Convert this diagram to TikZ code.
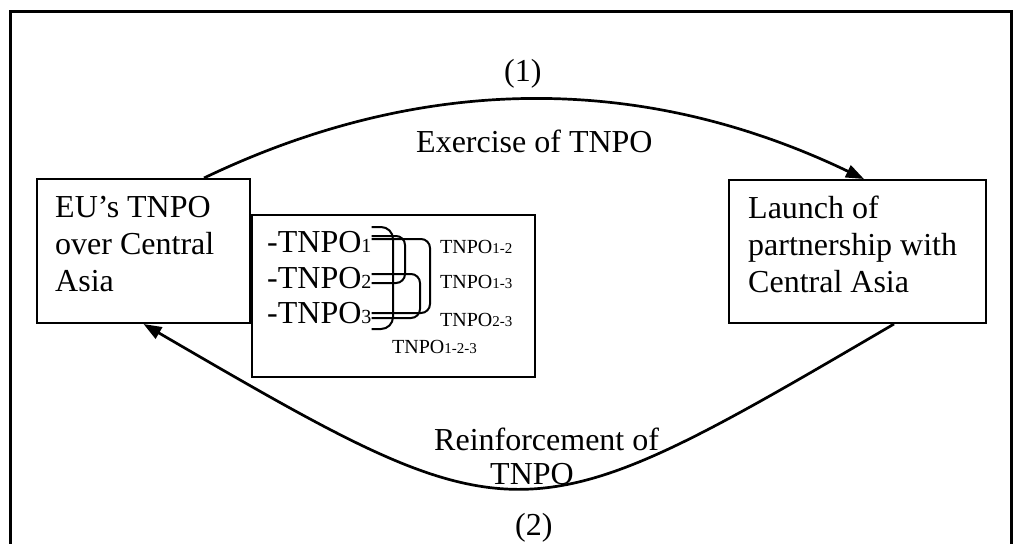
\documentclass[tikz,border=0pt]{standalone}
\usepackage{fontspec}
\setmainfont{Liberation Serif}
\usetikzlibrary{arrows.meta}
\begin{document}
\begin{tikzpicture}[x=1pt,y=-1pt,
  big/.style={font=\fontsize{32}{37}\selectfont, inner sep=0pt, anchor=base west},
  sm/.style={font=\fontsize{20}{22}\selectfont, inner sep=0pt, anchor=base west},
  boxnode/.style={draw, line width=2pt, inner sep=0pt, anchor=north west},
  flow/.style={line width=2.7pt, -{Triangle[length=18pt,width=13pt]}},
  brk/.style={line width=2pt, rounded corners=9pt},
]
\useasboundingbox (0,0) rectangle (1013,544);
\draw[line width=3pt] (10,544) -- (10,11) -- (1011,11) -- (1011,544);

% boxes
\node[boxnode, minimum width=213pt, minimum height=144pt] (L) at (36,178) {};
\node[boxnode, minimum width=257pt, minimum height=143pt] (R) at (728,179) {};
\node[boxnode, minimum width=283pt, minimum height=162pt] (M) at (251,214) {};

% box texts
\node[big] (l1) at (55,217) {EU’s TNPO};
\node[big] (l2) at (55,254) {over Central};
\node[big] (l3) at (55,291) {Asia};
\node[big] (r1) at (748,218) {Launch of};
\node[big] (r2) at (748,255) {partnership with};
\node[big] (r3) at (748,292) {Central Asia};

% inner box texts
\node[big] (t1) at (267,252) {-TNPO{\fontsize{20}{20}\selectfont 1}};
\node[big] (t2) at (267,288) {-TNPO{\fontsize{20}{20}\selectfont 2}};
\node[big] (t3) at (267,323) {-TNPO{\fontsize{20}{20}\selectfont 3}};
\node[sm] (s12) at (440,253) {TNPO{\fontsize{15}{15}\selectfont 1-2}};
\node[sm] (s13) at (440,288) {TNPO{\fontsize{15}{15}\selectfont 1-3}};
\node[sm] (s23) at (440,326) {TNPO{\fontsize{15}{15}\selectfont 2-3}};
\node[sm] (s123) at (392,353) {TNPO{\fontsize{15}{15}\selectfont 1-2-3}};

% brackets
\draw[brk, rounded corners=12pt] (t1.east |- 0,227) -- (393,227) -- (393,329) -- (t3.east |- 0,329);
\draw[brk] (t1.east |- 0,236) -- (405,236) -- (405,283) -- (t2.east |- 0,283);
\draw[brk] (t1.east |- 0,239) -- (430,239) -- (430,313) -- (t3.east |- 0,313);
\draw[brk] (t2.east |- 0,274) -- (420,274) -- (420,318) -- (t3.east |- 0,318);

% arrows
\draw[flow] ([xshift=60.5pt]L.north) .. controls (423,73) and (643,73) .. ([xshift=6.5pt]R.north);
\draw[flow] ([xshift=36.5pt]R.south) .. controls (520,543) .. (L.south);

% labels
\node[big] (n1) at (504,81) {(1)};
\node[big] (ex) at (416,152) {Exercise of TNPO};
\node[big] (re) at (434,450) {Reinforcement of};
\node[big] (tn) at (490,484) {TNPO};
\node[big] (n2) at (515,535) {(2)};
\end{tikzpicture}
\end{document}
